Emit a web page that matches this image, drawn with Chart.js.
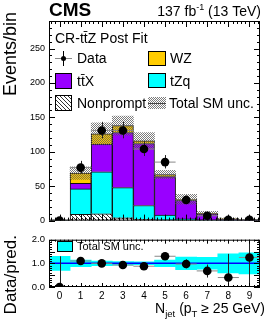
<!DOCTYPE html>
<html>
<head>
<meta charset="utf-8">
<script src="https://cdn.jsdelivr.net/npm/chart.js@4.4.0/dist/chart.umd.min.js"></script>
<style>
  body { margin: 0; background: #fff; width: 270px; height: 327px; position: relative; overflow: hidden; }
  canvas { position: absolute; left: 0; }
  #main { top: 0; }
  #ratio { top: 230px; }
</style>
</head>
<body>
<canvas id="main" width="270" height="230"></canvas>
<canvas id="ratio" width="270" height="97"></canvas>
<script>
// N_jet bins
const bins = ['0', '1', '2', '3', '4', '5', '6', '7', '8', '9'];

// stacked backgrounds (post fit)
const nonprompt = [0.3, 9, 10, 4, 2, 1, 0.5, 0.2, 0.1, 0.05];
const tZq = [0.1, 37, 61, 44, 20, 7, 2, 0.5, 0.2, 0.05];
const ttX = [0, 8, 40, 80, 90, 56, 27, 9, 2, 0.6];
const WZ = [0.1, 15, 15, 10, 4, 3, 1.5, 0.6, 0.2, 0.1];
const predTotal = [0.5, 69, 126, 138, 116, 67, 31, 10.3, 2.5, 0.8];
const predUnc = [0.3, 9, 16, 14, 12, 6, 7, 3, 1, 0.4];

// observed
const dataCounts = [0, 77, 131, 131, 104, 85, 30, 7, 1, 1];
const dataErrUp = [1.8, 9.8, 12.5, 12.5, 11.2, 10.2, 6.5, 3.8, 2.3, 2.3];
const dataErrDown = [0, 8.8, 11.4, 11.4, 10.2, 9.2, 5.5, 2.6, 0.8, 0.8];

// ratio panel
const ratio = [0, 1.1, 1.0, 0.93, 0.88, 1.3, 0.97, 0.68, 0.4, 1.25];
const ratioErrUp = [1.3, 0.13, 0.1, 0.09, 0.1, 0.15, 0.2, 0.27, 1.0, 0.9];
const ratioErrDown = [0, 0.12, 0.09, 0.08, 0.09, 0.14, 0.18, 0.28, 0.4, 1.25];
const ratioUnc = [0.3, 0.14, 0.1, 0.08, 0.06, 0.14, 0.27, 0.25, 0.4, 0.45];

const yTicksMain = [0, 50, 100, 150, 200, 250];
const yTicksRatio = [0, 0.5, 1, 1.5, 2];

const FONT = '"Liberation Sans", Arial, sans-serif';
Chart.defaults.font.family = FONT;
Chart.defaults.color = '#000';

function makePattern(size, paint) {
  const c = document.createElement('canvas');
  c.width = size; c.height = size;
  const g = c.getContext('2d');
  paint(g);
  return g.createPattern(c, 'repeat');
}

// white with "\\" lines
const hatch = makePattern(4, g => {
  g.fillStyle = '#fff';
  g.fillRect(0, 0, 4, 4);
  g.fillStyle = '#333';
  for (let i = 0; i < 4; i++) g.fillRect(i, i, 1, 1);
});

// gray checker, see-through
const uncFill = makePattern(2, g => {
  g.fillStyle = 'rgba(90,90,90,0.8)';
  g.fillRect(0, 0, 1, 1);
  g.fillRect(1, 1, 1, 1);
});

// frame with ROOT style ticks on all sides
const rootFrame = {
  id: 'rootFrame',
  afterDatasetsDraw(chart, args, opts) {
    const { ctx, chartArea: a } = chart;
    const x = chart.scales.x, y = chart.scales.y;
    ctx.save();
    ctx.strokeStyle = '#000';
    ctx.lineWidth = 1;
    ctx.beginPath();
    for (let k = Math.round(y.min / opts.yMinor); k * opts.yMinor <= y.max + 1e-9; k++) {
      const v = k * opts.yMinor;
      const major = Math.abs(v / opts.yMajor - Math.round(v / opts.yMajor)) < 1e-6;
      const len = major ? opts.yLen : opts.yLen / 2;
      const py = Math.round(y.getPixelForValue(v)) + 0.5;
      ctx.moveTo(a.left, py); ctx.lineTo(a.left + len, py);
      ctx.moveTo(a.right, py); ctx.lineTo(a.right - len, py);
    }
    for (let k = -2; k <= 47; k++) {
      const v = k * 0.2;
      const major = k % 5 === 0;
      const len = major ? opts.xLen : opts.xLen / 2;
      const px = Math.round(x.getPixelForValue(v)) + 0.5;
      ctx.moveTo(px, a.bottom); ctx.lineTo(px, a.bottom - len);
      ctx.moveTo(px, a.top); ctx.lineTo(px, a.top + len);
    }
    ctx.stroke();
    ctx.strokeRect(a.left + 0.5, a.top + 0.5, a.width - 1, a.height - 1);
    ctx.restore();
  }
};

// error bars under the data markers
const errorBars = {
  id: 'errorBars',
  beforeDatasetDraw(chart, args, opts) {
    if (args.index !== opts.index) return;
    const { ctx, chartArea: a } = chart;
    const x = chart.scales.x, y = chart.scales.y;
    ctx.save();
    ctx.beginPath();
    ctx.rect(a.left, a.top, a.width, a.height);
    ctx.clip();
    if (opts.refLine !== undefined) {
      const py = y.getPixelForValue(opts.refLine);
      ctx.strokeStyle = '#0000ff';
      ctx.lineWidth = 1.5;
      ctx.beginPath();
      ctx.moveTo(a.left, py); ctx.lineTo(a.right, py);
      ctx.stroke();
    }
    opts.values.forEach((v, i) => {
      const px = Math.round(x.getPixelForValue(i)) + 0.5;
      const py = y.getPixelForValue(v);
      ctx.strokeStyle = '#888';
      ctx.lineWidth = 1;
      ctx.beginPath();
      ctx.moveTo(x.getPixelForValue(i - 0.5), py);
      ctx.lineTo(x.getPixelForValue(i + 0.5), py);
      ctx.stroke();
      ctx.strokeStyle = '#222';
      ctx.beginPath();
      ctx.moveTo(px, y.getPixelForValue(v - opts.down[i]));
      ctx.lineTo(px, y.getPixelForValue(v + opts.up[i]));
      ctx.stroke();
    });
    ctx.restore();
  }
};

function legendBox(ctx, x, y, w, h, fill) {
  ctx.fillStyle = fill;
  ctx.fillRect(x, y, w, h);
  ctx.strokeStyle = '#000';
  ctx.lineWidth = 1;
  ctx.strokeRect(x + 0.5, y + 0.5, w - 1, h - 1);
}

// draws runs of [text, size, dy] starting at x
function richText(ctx, parts, x, y, align) {
  let total = 0;
  parts.forEach(p => { ctx.font = p[1] + 'px ' + FONT; total += ctx.measureText(p[0]).width; });
  let cx = align === 'right' ? x - total : x;
  ctx.textAlign = 'left';
  parts.forEach(p => {
    ctx.font = p[1] + 'px ' + FONT;
    ctx.fillText(p[0], cx, y + (p[2] || 0));
    cx += ctx.measureText(p[0]).width;
  });
}

const mainTexts = {
  id: 'mainTexts',
  afterDraw(chart) {
    const ctx = chart.ctx;
    ctx.save();
    ctx.fillStyle = '#000';
    ctx.textBaseline = 'alphabetic';
    ctx.font = 'bold 19px ' + FONT;
    ctx.fillText('CMS', 49, 16);
    richText(ctx, [['137 fb', 14], ['-1', 9, -6], [' (13 TeV)', 14]], 261, 16, 'right');

    ctx.save();
    ctx.translate(16, 12);
    ctx.rotate(-Math.PI / 2);
    ctx.textAlign = 'right';
    ctx.font = '18px ' + FONT;
    ctx.fillText('Events/bin', 0, 0);
    ctx.restore();

    ctx.font = '14px ' + FONT;
    ctx.fillText('CR-tt\u0304Z Post Fit', 55, 43);

    // Data entry
    ctx.strokeStyle = '#888';
    ctx.beginPath();
    ctx.moveTo(55, 58.5); ctx.lineTo(72, 58.5);
    ctx.stroke();
    ctx.strokeStyle = '#000';
    ctx.beginPath();
    ctx.moveTo(63.5, 51); ctx.lineTo(63.5, 66);
    ctx.stroke();
    ctx.beginPath();
    ctx.arc(63.5, 58.5, 2.5, 0, Math.PI * 2);
    ctx.fill();
    ctx.fillText('Data', 77, 63);

    legendBox(ctx, 55, 73, 17, 16, '#9900ff');
    ctx.fillStyle = '#000';
    ctx.fillText('tt\u0304X', 77, 86);
    legendBox(ctx, 55, 95, 17, 16, hatch);
    ctx.fillStyle = '#000';
    ctx.fillText('Nonprompt', 77, 108);

    legendBox(ctx, 148, 51, 18, 15, '#ffcc00');
    ctx.fillStyle = '#000';
    ctx.fillText('WZ', 170, 63);
    legendBox(ctx, 148, 73, 18, 15, '#00ffff');
    ctx.fillStyle = '#000';
    ctx.fillText('tZq', 170, 86);
    ctx.fillStyle = '#fff';
    ctx.fillRect(148, 97, 18, 12);
    ctx.fillStyle = uncFill;
    ctx.fillRect(148, 97, 18, 12);
    ctx.strokeStyle = '#444';
    ctx.beginPath();
    ctx.moveTo(148, 103.5); ctx.lineTo(166, 103.5);
    ctx.stroke();
    ctx.fillStyle = '#000';
    ctx.fillText('Total SM unc.', 169, 108);
    ctx.restore();
  }
};

const ratioTexts = {
  id: 'ratioTexts',
  afterDraw(chart) {
    const ctx = chart.ctx;
    ctx.save();
    ctx.fillStyle = '#000';
    ctx.textBaseline = 'alphabetic';
    legendBox(ctx, 57, 11, 16, 11, '#00ffff');
    ctx.fillStyle = '#000';
    ctx.font = '11px ' + FONT;
    ctx.fillText('Total SM unc.', 77, 20);

    ctx.save();
    ctx.translate(16, 5);
    ctx.rotate(-Math.PI / 2);
    ctx.textAlign = 'right';
    ctx.font = '17px ' + FONT;
    ctx.fillText('Data/pred.', 0, 0);
    ctx.restore();

    richText(ctx, [['N', 14], ['jet', 9.5, 4], [' (p', 14], ['T', 9.5, 4], [' \u2265 25 GeV)', 14]], 265, 83, 'right');
    ctx.restore();
  }
};

const barCommon = { type: 'bar', stack: 'mc', order: 2, borderWidth: 1, borderColor: '#111', barPercentage: 1, categoryPercentage: 1 };

new Chart(document.getElementById('main'), {
  data: {
    labels: bins,
    datasets: [
      { ...barCommon, label: 'Nonprompt', data: nonprompt, backgroundColor: hatch },
      { ...barCommon, label: 'tZq', data: tZq, backgroundColor: '#00ffff' },
      { ...barCommon, label: 'ttX', data: ttX, backgroundColor: '#9900ff' },
      { ...barCommon, label: 'WZ', data: WZ, backgroundColor: '#ffcc00' },
      {
        type: 'bar', label: 'Total SM unc.', stack: 'unc', order: 1, grouped: false,
        data: predTotal.map((t, i) => [t - predUnc[i], t + predUnc[i]]),
        backgroundColor: uncFill, borderWidth: 0, barPercentage: 1, categoryPercentage: 1
      },
      {
        type: 'line', label: 'Data', stack: 'data', order: 0, data: dataCounts, showLine: false,
        pointRadius: 4.3, pointBackgroundColor: '#000', pointBorderWidth: 0
      }
    ]
  },
  options: {
    responsive: false,
    animation: false,
    layout: { padding: { left: 0, top: 21, right: 10, bottom: 6 } },
    scales: {
      x: { type: 'category', offset: true, stacked: true, display: false },
      y: {
        stacked: true, min: 0, max: 290,
        afterBuildTicks: s => { s.ticks = yTicksMain.map(v => ({ value: v })); },
        afterFit: s => { s.width = 49; },
        grid: { display: false, drawTicks: false },
        border: { display: false },
        ticks: { font: { size: 9 }, padding: 4 }
      }
    },
    plugins: {
      legend: { display: false },
      tooltip: { enabled: false },
      rootFrame: { yMajor: 50, yMinor: 10, yLen: 6, xLen: 6 },
      errorBars: { index: 5, values: dataCounts, up: dataErrUp, down: dataErrDown }
    }
  },
  plugins: [rootFrame, errorBars, mainTexts]
});

new Chart(document.getElementById('ratio'), {
  data: {
    labels: bins,
    datasets: [
      {
        type: 'bar', label: 'Total SM unc.', order: 1,
        data: ratioUnc.map(u => [1 - u, 1 + u]),
        backgroundColor: '#00ffff', borderWidth: 0, barPercentage: 1, categoryPercentage: 1
      },
      {
        type: 'line', label: 'Data/pred.', order: 0, data: ratio, showLine: false,
        pointRadius: 4.3, pointBackgroundColor: '#000', pointBorderWidth: 0
      }
    ]
  },
  options: {
    responsive: false,
    animation: false,
    layout: { padding: { left: 0, top: 4.5, right: 10, bottom: 0 } },
    scales: {
      x: {
        type: 'category', offset: true,
        afterFit: s => { s.height = 40; },
        grid: { display: false, drawTicks: false },
        border: { display: false },
        ticks: { font: { size: 10 }, padding: 3, maxRotation: 0 }
      },
      y: {
        min: 0, max: 2,
        afterBuildTicks: s => { s.ticks = yTicksRatio.map(v => ({ value: v })); },
        afterFit: s => { s.width = 49; },
        grid: { display: false, drawTicks: false },
        border: { display: false },
        ticks: { font: { size: 9.5 }, padding: 4, callback: v => v.toFixed(1) }
      }
    },
    plugins: {
      legend: { display: false },
      tooltip: { enabled: false },
      rootFrame: { yMajor: 0.5, yMinor: 0.1, yLen: 6, xLen: 4 },
      errorBars: { index: 1, values: ratio, up: ratioErrUp, down: ratioErrDown, refLine: 1 }
    }
  },
  plugins: [rootFrame, errorBars, ratioTexts]
});
</script>
</body>
</html>
